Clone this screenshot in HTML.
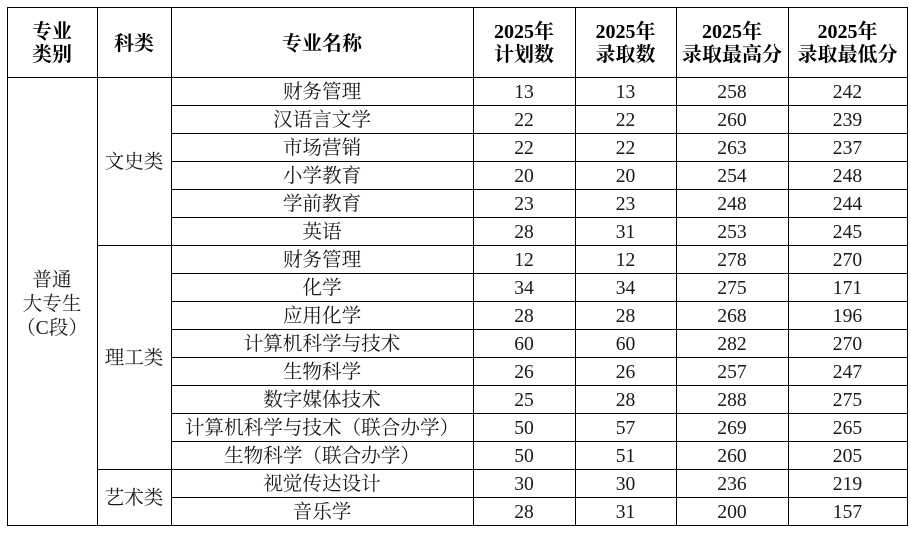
<!DOCTYPE html>
<html>
<head>
<meta charset="utf-8">
<style>
  html,body{margin:0;padding:0;background:#fff;}
  body{width:911px;height:534px;position:relative;overflow:hidden;
       font-family:"Liberation Serif","Noto Serif CJK SC",serif;color:#1a1a1a;}
  .h{position:absolute;height:1.4px;background:#000;}
  .v{position:absolute;width:1.4px;background:#000;}
  .c{position:absolute;display:flex;align-items:center;justify-content:center;text-align:center;
     font-size:19.6px;line-height:24px;white-space:nowrap;padding-top:2px;box-sizing:border-box;}
  .hd{font-weight:bold;font-size:20px;line-height:23px;color:#000;padding-top:3px;}
</style>
</head>
<body>
<!-- outer / main lines -->
<div class="h" style="left:7px;top:7px;width:901px;"></div>
<div class="h" style="left:7px;top:77px;width:901px;"></div>
<div class="h" style="left:7px;top:524.5px;width:901px;"></div>

<div class="v" style="left:7px;top:7px;height:519px;"></div>
<div class="v" style="left:97px;top:7px;height:519px;"></div>
<div class="v" style="left:171px;top:7px;height:519px;"></div>
<div class="v" style="left:473px;top:7px;height:519px;"></div>
<div class="v" style="left:575px;top:7px;height:519px;"></div>
<div class="v" style="left:676px;top:7px;height:519px;"></div>
<div class="v" style="left:788px;top:7px;height:519px;"></div>
<div class="v" style="left:906.5px;top:7px;height:519px;"></div>

<!-- row lines in name/data columns -->
<div class="h" style="left:171px;top:105px;width:737px;"></div>
<div class="h" style="left:171px;top:133px;width:737px;"></div>
<div class="h" style="left:171px;top:161px;width:737px;"></div>
<div class="h" style="left:171px;top:189px;width:737px;"></div>
<div class="h" style="left:171px;top:217px;width:737px;"></div>
<div class="h" style="left:97px;top:245px;width:811px;"></div>
<div class="h" style="left:171px;top:273px;width:737px;"></div>
<div class="h" style="left:171px;top:301px;width:737px;"></div>
<div class="h" style="left:171px;top:329px;width:737px;"></div>
<div class="h" style="left:171px;top:357px;width:737px;"></div>
<div class="h" style="left:171px;top:385px;width:737px;"></div>
<div class="h" style="left:171px;top:413px;width:737px;"></div>
<div class="h" style="left:171px;top:441px;width:737px;"></div>
<div class="h" style="left:97px;top:469px;width:811px;"></div>
<div class="h" style="left:171px;top:497px;width:737px;"></div>

<!-- header -->
<div class="c hd" style="left:7px;top:8px;width:90px;height:69px;">专业<br>类别</div>
<div class="c hd" style="left:97px;top:8px;width:74px;height:69px;">科类</div>
<div class="c hd" style="left:171px;top:8px;width:302px;height:69px;">专业名称</div>
<div class="c hd" style="left:473px;top:8px;width:102px;height:69px;">2025年<br>计划数</div>
<div class="c hd" style="left:575px;top:8px;width:101px;height:69px;">2025年<br>录取数</div>
<div class="c hd" style="left:676px;top:8px;width:112px;height:69px;">2025年<br>录取最高分</div>
<div class="c hd" style="left:788px;top:8px;width:119px;height:69px;">2025年<br>录取最低分</div>

<!-- merged cells -->
<div class="c" style="left:7px;top:78px;width:90px;height:452px;">普通<br>大专生<br>（C段）</div>
<div class="c" style="left:97px;top:78px;width:74px;height:168px;">文史类</div>
<div class="c" style="left:97px;top:246px;width:74px;height:224px;">理工类</div>
<div class="c" style="left:97px;top:470px;width:74px;height:56px;">艺术类</div>

<!-- rows -->
<div class="c" style="left:171px;top:78px;width:302px;height:28px;">财务管理</div>
<div class="c" style="left:473px;top:78px;width:102px;height:28px;">13</div>
<div class="c" style="left:575px;top:78px;width:101px;height:28px;">13</div>
<div class="c" style="left:676px;top:78px;width:112px;height:28px;">258</div>
<div class="c" style="left:788px;top:78px;width:119px;height:28px;">242</div>

<div class="c" style="left:171px;top:106px;width:302px;height:28px;">汉语言文学</div>
<div class="c" style="left:473px;top:106px;width:102px;height:28px;">22</div>
<div class="c" style="left:575px;top:106px;width:101px;height:28px;">22</div>
<div class="c" style="left:676px;top:106px;width:112px;height:28px;">260</div>
<div class="c" style="left:788px;top:106px;width:119px;height:28px;">239</div>

<div class="c" style="left:171px;top:134px;width:302px;height:28px;">市场营销</div>
<div class="c" style="left:473px;top:134px;width:102px;height:28px;">22</div>
<div class="c" style="left:575px;top:134px;width:101px;height:28px;">22</div>
<div class="c" style="left:676px;top:134px;width:112px;height:28px;">263</div>
<div class="c" style="left:788px;top:134px;width:119px;height:28px;">237</div>

<div class="c" style="left:171px;top:162px;width:302px;height:28px;">小学教育</div>
<div class="c" style="left:473px;top:162px;width:102px;height:28px;">20</div>
<div class="c" style="left:575px;top:162px;width:101px;height:28px;">20</div>
<div class="c" style="left:676px;top:162px;width:112px;height:28px;">254</div>
<div class="c" style="left:788px;top:162px;width:119px;height:28px;">248</div>

<div class="c" style="left:171px;top:190px;width:302px;height:28px;">学前教育</div>
<div class="c" style="left:473px;top:190px;width:102px;height:28px;">23</div>
<div class="c" style="left:575px;top:190px;width:101px;height:28px;">23</div>
<div class="c" style="left:676px;top:190px;width:112px;height:28px;">248</div>
<div class="c" style="left:788px;top:190px;width:119px;height:28px;">244</div>

<div class="c" style="left:171px;top:218px;width:302px;height:28px;">英语</div>
<div class="c" style="left:473px;top:218px;width:102px;height:28px;">28</div>
<div class="c" style="left:575px;top:218px;width:101px;height:28px;">31</div>
<div class="c" style="left:676px;top:218px;width:112px;height:28px;">253</div>
<div class="c" style="left:788px;top:218px;width:119px;height:28px;">245</div>

<div class="c" style="left:171px;top:246px;width:302px;height:28px;">财务管理</div>
<div class="c" style="left:473px;top:246px;width:102px;height:28px;">12</div>
<div class="c" style="left:575px;top:246px;width:101px;height:28px;">12</div>
<div class="c" style="left:676px;top:246px;width:112px;height:28px;">278</div>
<div class="c" style="left:788px;top:246px;width:119px;height:28px;">270</div>

<div class="c" style="left:171px;top:274px;width:302px;height:28px;">化学</div>
<div class="c" style="left:473px;top:274px;width:102px;height:28px;">34</div>
<div class="c" style="left:575px;top:274px;width:101px;height:28px;">34</div>
<div class="c" style="left:676px;top:274px;width:112px;height:28px;">275</div>
<div class="c" style="left:788px;top:274px;width:119px;height:28px;">171</div>

<div class="c" style="left:171px;top:302px;width:302px;height:28px;">应用化学</div>
<div class="c" style="left:473px;top:302px;width:102px;height:28px;">28</div>
<div class="c" style="left:575px;top:302px;width:101px;height:28px;">28</div>
<div class="c" style="left:676px;top:302px;width:112px;height:28px;">268</div>
<div class="c" style="left:788px;top:302px;width:119px;height:28px;">196</div>

<div class="c" style="left:171px;top:330px;width:302px;height:28px;">计算机科学与技术</div>
<div class="c" style="left:473px;top:330px;width:102px;height:28px;">60</div>
<div class="c" style="left:575px;top:330px;width:101px;height:28px;">60</div>
<div class="c" style="left:676px;top:330px;width:112px;height:28px;">282</div>
<div class="c" style="left:788px;top:330px;width:119px;height:28px;">270</div>

<div class="c" style="left:171px;top:358px;width:302px;height:28px;">生物科学</div>
<div class="c" style="left:473px;top:358px;width:102px;height:28px;">26</div>
<div class="c" style="left:575px;top:358px;width:101px;height:28px;">26</div>
<div class="c" style="left:676px;top:358px;width:112px;height:28px;">257</div>
<div class="c" style="left:788px;top:358px;width:119px;height:28px;">247</div>

<div class="c" style="left:171px;top:386px;width:302px;height:28px;">数字媒体技术</div>
<div class="c" style="left:473px;top:386px;width:102px;height:28px;">25</div>
<div class="c" style="left:575px;top:386px;width:101px;height:28px;">28</div>
<div class="c" style="left:676px;top:386px;width:112px;height:28px;">288</div>
<div class="c" style="left:788px;top:386px;width:119px;height:28px;">275</div>

<div class="c" style="left:171px;top:414px;width:302px;height:28px;">计算机科学与技术（联合办学）</div>
<div class="c" style="left:473px;top:414px;width:102px;height:28px;">50</div>
<div class="c" style="left:575px;top:414px;width:101px;height:28px;">57</div>
<div class="c" style="left:676px;top:414px;width:112px;height:28px;">269</div>
<div class="c" style="left:788px;top:414px;width:119px;height:28px;">265</div>

<div class="c" style="left:171px;top:442px;width:302px;height:28px;">生物科学（联合办学）</div>
<div class="c" style="left:473px;top:442px;width:102px;height:28px;">50</div>
<div class="c" style="left:575px;top:442px;width:101px;height:28px;">51</div>
<div class="c" style="left:676px;top:442px;width:112px;height:28px;">260</div>
<div class="c" style="left:788px;top:442px;width:119px;height:28px;">205</div>

<div class="c" style="left:171px;top:470px;width:302px;height:28px;">视觉传达设计</div>
<div class="c" style="left:473px;top:470px;width:102px;height:28px;">30</div>
<div class="c" style="left:575px;top:470px;width:101px;height:28px;">30</div>
<div class="c" style="left:676px;top:470px;width:112px;height:28px;">236</div>
<div class="c" style="left:788px;top:470px;width:119px;height:28px;">219</div>

<div class="c" style="left:171px;top:498px;width:302px;height:28px;">音乐学</div>
<div class="c" style="left:473px;top:498px;width:102px;height:28px;">28</div>
<div class="c" style="left:575px;top:498px;width:101px;height:28px;">31</div>
<div class="c" style="left:676px;top:498px;width:112px;height:28px;">200</div>
<div class="c" style="left:788px;top:498px;width:119px;height:28px;">157</div>
</body>
</html>
